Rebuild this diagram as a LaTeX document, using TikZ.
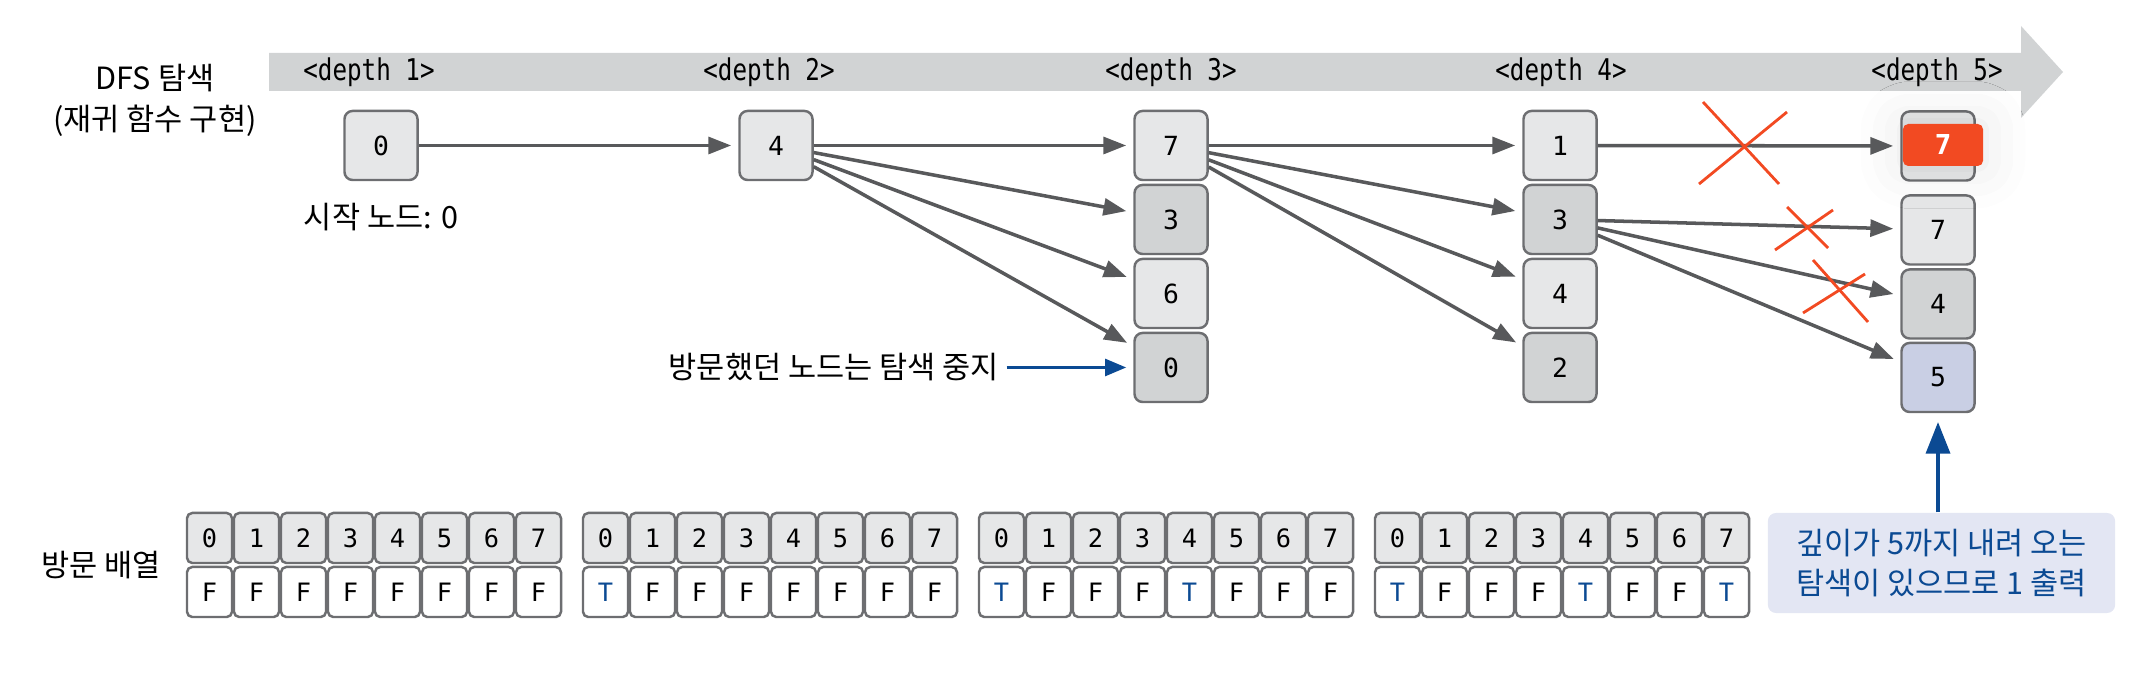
\documentclass[tikz,border=0pt]{standalone}
\usepackage{fontspec}
\setmainfont{Noto Sans CJK KR}
\newfontfamily\codefont{DejaVu Sans Mono}
\newfontfamily\depthfont[FakeStretch=0.81]{DejaVu Sans Mono}
\usetikzlibrary{arrows.meta,positioning,shadows.blur}

\definecolor{bannergray}{HTML}{D1D3D4}
\definecolor{freshfill}{HTML}{E6E7E8}
\definecolor{seenfill}{HTML}{D1D3D4}
\definecolor{goalfill}{HTML}{C9CFE4}
\definecolor{boxline}{HTML}{6D6E71}
\definecolor{linkgray}{HTML}{58595B}
\definecolor{hitred}{HTML}{F24A22}
\definecolor{tblue}{HTML}{0B4A93}
\definecolor{notefill}{HTML}{E3E6F3}

\newcommand{\flag}[1]{\if T#1\textcolor{tblue}{T}\else F\fi}

\begin{document}
\begin{tikzpicture}[x=0.01cm, y=-0.01cm, >={Triangle[length=6.5pt,width=4.8pt]},
  nodebox/.style={draw=boxline, line width=0.7pt, rounded corners=2.3pt, minimum width=0.73cm,
    minimum height=0.69cm, inner sep=0pt, font=\codefont\fontsize{7.5}{9}\selectfont},
  fresh/.style={nodebox, fill=freshfill},
  seen/.style={nodebox, fill=seenfill},
  goal/.style={nodebox, fill=goalfill},
  hit/.style={fill=hitred, rounded corners=1.5pt, minimum width=0.80cm, minimum height=0.42cm,
    inner sep=0pt, text=white, font=\codefont\bfseries\fontsize{7.8}{9}\selectfont,
    blur shadow={shadow xshift=0pt, shadow yshift=0pt, shadow blur radius=12pt, shadow opacity=10}},
  cell/.style={draw=boxline, line width=0.7pt, rounded corners=1.5pt, minimum width=0.45cm,
    minimum height=0.50cm, inner sep=0pt, font=\codefont\fontsize{7.2}{9}\selectfont},
  link/.style={->, draw=linkgray, line width=1pt, shorten >=2pt},
  xmark/.style={draw=hitred, line width=0.8pt},
  pointer/.style={-{Triangle[length=6pt,width=4.8pt]}, draw=tblue, line width=0.85pt},
  txt/.style={inner sep=0pt, font=\fontsize{8.7}{11.7}\selectfont},
  depthtag/.style={inner sep=0pt, font=\depthfont\fontsize{8.5}{9}\selectfont},
  notebox/.style={fill=notefill, rounded corners=2.3pt, minimum width=3.47cm, minimum height=1.0cm,
    inner sep=0pt, align=center, text=tblue, font=\fontsize{8.7}{11.4}\selectfont}]
  \useasboundingbox (0,0) rectangle (2142,674);

  % depth banner
  \fill[bannergray] (269,53) -- (2021,53) -- (2021,26) -- (2063,72) -- (2021,118) -- (2021,91) -- (269,91) -- cycle;
  \foreach \x [count=\d] in {369,769,1171,1561,1937}
    \node[depthtag] (tag\d) at (\x,72) {<depth \d>};
  \node[txt, align=center] (title) at (155,100.5) {DFS 탐색\\(재귀 함수 구현)};

  % search tree
  \node[fresh] (n1) at (381,145.5) {0};
  \node[fresh] (n2) at (776,145.5) {4};
  \node[fresh] (n3a) at (1171,145.5) {7};
  \node[seen] (n3b) at (1171,219.5) {3};
  \node[fresh] (n3c) at (1171,293.5) {6};
  \node[seen] (n3d) at (1171,367.5) {0};
  \node[fresh] (n4a) at (1560,145.5) {1};
  \node[seen] (n4b) at (1560,219.5) {3};
  \node[fresh] (n4c) at (1560,293.5) {4};
  \node[seen] (n4d) at (1560,367.5) {2};
  \node[fresh] (n5a) at (1938,146) {};
  \node[fresh] (n5b) at (1938,230) {7};
  \node[seen] (n5c) at (1938,304) {4};
  \node[goal] (n5d) at (1938,377.5) {5};
  \node[hit] (n5r) at (1943,145) {7};
  \node[txt, below=0.21cm of n1] (start) {시작 노드: 0};
  \node[txt, left=1.335cm of n3d] (stop) {방문했던 노드는 탐색 중지};

  \draw[link] (n1) -- (n2);
  \foreach \t in {n3a,n3b,n3c,n3d}
    \draw[link] (n2) -- (\t);
  \foreach \t in {n4a,n4b,n4c,n4d}
    \draw[link] (n3a) -- (\t);
  \draw[link] (n4a) -- (n5a);
  \foreach \t in {n5b,n5c,n5d}
    \draw[link] (n4b) -- (\t);
  \draw[pointer, shorten <=2pt, shorten >=2pt] (stop) -- (n3d);

  % cut branches
  \draw[xmark] (1703,102) -- (1779,184);
  \draw[xmark] (1787,112) -- (1699,184);
  \draw[xmark] (1787,207) -- (1828,248);
  \draw[xmark] (1833,210) -- (1775,250);
  \draw[xmark] (1813,260) -- (1868,322);
  \draw[xmark] (1865,274) -- (1803,313);

  % visited array
  \node[txt] (visited) at (101,565) {방문 배열};
  \foreach \g/\vals in {0/{F,F,F,F,F,F,F,F}, 1/{T,F,F,F,F,F,F,F},
                        2/{T,F,F,F,T,F,F,F}, 3/{T,F,F,F,T,F,F,T}} {
    \foreach \v [count=\i from 0] in \vals {
      \node[cell, fill=freshfill] (i\g\i) at ({209.5+396*\g+47*\i},538) {\i};
      \node[cell, fill=white] (v\g\i) at ({209.5+396*\g+47*\i},592) {\flag{\v}};
    }
  }

  \node[notebox] (note) at (1941.5,563) {깊이가 5까지 내려 오는\\탐색이 있으므로 1 출력};
  \draw[-{Triangle[length=9pt,width=6.8pt]}, draw=tblue, line width=1.1pt, shorten >=2.5pt]
    (n5d |- note.north) -- (n5d);
\end{tikzpicture}
\end{document}
